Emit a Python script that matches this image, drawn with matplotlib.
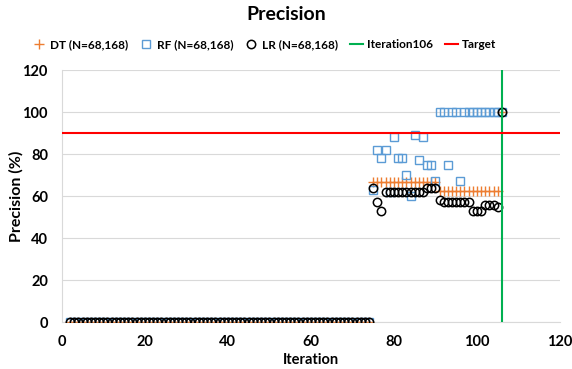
import numpy as np
import matplotlib
matplotlib.use("Agg")
import matplotlib.pyplot as plt

plt.rcParams['font.family'] = ['Lato', 'DejaVu Sans']

# ---- data ----
zero_iters = list(range(2, 75))
active_iters = list(range(75, 107))

dt_active = [66.7] * 16 + [62.5] * 15 + [100]
rf_active = [63, 82, 78, 82, 62, 88, 78, 78, 70, 60, 89, 77, 88, 75, 75, 67,
             100, 100, 75, 100, 100, 67, 100, 100, 100, 100, 100, 100, 100, 100, 100, 100]
lr_active = [64, 57, 53] + [62] * 10 + [64] * 3 + [58] + [57] * 7 + [53] * 3 + [56] * 3 + [55, 100]

iterations = zero_iters + active_iters
dt = [0] * len(zero_iters) + dt_active
rf = [0] * len(zero_iters) + rf_active
lr = [0] * len(zero_iters) + lr_active

target = 90
iter_line = 106

series_labels = ["DT (N=68,168)", "RF (N=68,168)", "LR (N=68,168)", "Iteration106", "Target"]
x_ticks = [0, 20, 40, 60, 80, 100, 120]
y_ticks = [0, 20, 40, 60, 80, 100, 120]

# ---- figure ----
fig = plt.figure(figsize=(5.72, 3.69), dpi=100)
ax = fig.add_axes([0.108, 0.127, 0.871, 0.683])

orange = '#ED7D31'
blue = '#5B9BD5'

ax.plot(iterations, dt, linestyle='none', marker='+', color=orange, markersize=7,
        markeredgewidth=1.0, label=series_labels[0], zorder=3)
ax.plot(iterations, rf, linestyle='none', marker='s', markerfacecolor='none',
        markeredgecolor=blue, markersize=5.5, markeredgewidth=1.0, label=series_labels[1], zorder=3)
ax.plot(iterations, lr, linestyle='none', marker='o', markerfacecolor='none',
        markeredgecolor='black', markersize=6, markeredgewidth=1.1, label=series_labels[2], zorder=4)
ax.axvline(iter_line, color='#00B050', linewidth=1.5, label=series_labels[3], zorder=5)
ax.axhline(target, color='#FF0000', linewidth=1.5, label=series_labels[4], zorder=5)

ax.set_xlim(0, 120)
ax.set_ylim(0, 120)
ax.set_xticks(x_ticks)
ax.set_yticks(y_ticks)
ax.tick_params(axis='y', length=0, labelsize=10.5, pad=10)
ax.tick_params(axis='x', length=0, labelsize=10.5, pad=9)
for lab in ax.get_xticklabels() + ax.get_yticklabels():
    lab.set_fontweight('bold')

ax.grid(axis='y', color='#D9D9D9', linewidth=0.8, zorder=0)
ax.set_axisbelow(True)
for s in ['top', 'right']:
    ax.spines[s].set_visible(False)
for s in ['left', 'bottom']:
    ax.spines[s].set_color('#D9D9D9')
    ax.spines[s].set_linewidth(0.8)

ax.set_xlabel('Iteration', fontsize=10.5, fontweight='bold', labelpad=3)
ax.set_ylabel('Precision (%)', fontsize=11.5, fontweight='bold')
ax.yaxis.set_label_coords(-0.076, 0.5)

fig.suptitle('Precision', fontsize=14, fontweight='bold', y=0.985)

leg = fig.legend(loc='center', bbox_to_anchor=(0.462, 0.88), ncol=5, frameon=False,
                 prop={'size': 8.5, 'weight': 'bold'}, handlelength=1.1,
                 handletextpad=0.35, columnspacing=1.0)

fig.savefig('out.png', dpi=100)
